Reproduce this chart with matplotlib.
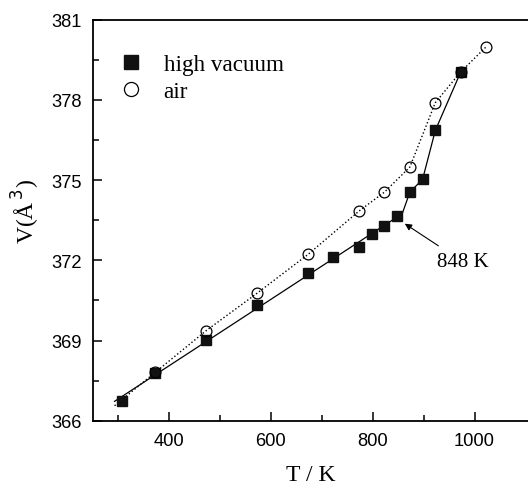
import numpy as np
import matplotlib.pyplot as plt

# high vacuum data
t_vac = [308, 373, 473, 573, 673, 723, 773, 798, 823, 848, 873, 898, 923, 973]
v_vac = [366.75, 367.77, 369.02, 370.33, 371.53, 372.14, 372.49, 372.97, 373.27, 373.66,
         374.55, 375.03, 376.86, 379.05]

# air data
t_air = [373, 473, 573, 673, 773, 823, 873, 923, 973, 1023]
v_air = [367.81, 369.37, 370.77, 372.22, 373.84, 374.55, 375.49, 377.90, 379.05, 379.99]

t_start = 293      # guide lines start a little below the first point
t_break = 848      # transition temperature

serif = 'Liberation Serif'
sans = 'Liberation Sans'

fig = plt.figure(figsize=(5.28, 4.85), dpi=100)
ax = fig.add_axes([0.1755, 0.1305, 0.8245, 0.8268])

# solid guide: linear fit below the transition, then through the high-T points
t_lo = np.array([t for t in t_vac if t <= t_break])
v_lo = np.array(v_vac[:len(t_lo)])
k, b = np.polyfit(t_lo, v_lo, 1)
t_end = t_break + 10
guide_t = [t_start, t_end] + t_vac[len(t_lo):]
guide_v = [k * t_start + b, k * t_end + b] + v_vac[len(t_lo):]
ax.plot(guide_t, guide_v, '-', color='k', lw=0.9)

# dotted guide through the air points
s0 = (v_air[1] - v_air[0]) / (t_air[1] - t_air[0])
air_t = [t_start] + t_air
air_v = [v_air[0] - s0 * (t_air[0] - t_start)] + v_air
ax.plot(air_t, air_v, ':', color='k', lw=1.0)

ax.plot(t_vac, v_vac, 's', color='#111111', ms=7.8, ls='none', label='high vacuum')
ax.plot(t_air, v_air, 'o', mfc='none', mec='k', mew=0.9, ms=7.8, ls='none', label='air')

ax.annotate('848 K', xy=(863, 373.37), xytext=(977, 371.94),
            ha='center', va='center', fontsize=15, family=serif,
            arrowprops=dict(arrowstyle='-|>', color='k', lw=0.8, mutation_scale=10,
                            shrinkA=5, shrinkB=0))

ax.set_xlim(250, 1105)
ax.set_ylim(366, 381)
ax.set_xticks([400, 600, 800, 1000])
ax.set_xticks([300, 500, 700, 900], minor=True)
ax.set_yticks([366, 369, 372, 375, 378, 381])
ax.set_yticks([367.5, 370.5, 373.5, 376.5, 379.5], minor=True)
ax.tick_params(which='both', direction='in', width=1.1, top=False, right=False)
ax.tick_params(which='major', length=6.5, labelsize=13.2, pad=8)
ax.tick_params(which='minor', length=4)
for lab in ax.get_xticklabels() + ax.get_yticklabels():
    lab.set_family(sans)
for side in ['left', 'bottom', 'top']:
    ax.spines[side].set_linewidth(1.3)
ax.spines['right'].set_visible(False)

ax.set_xlabel('T / K', fontsize=17, family=serif, labelpad=11)
ax.set_ylabel(r'V(Å$^{\,3}$)', fontsize=17, family=serif)
ax.yaxis.set_label_coords(-0.1165, 0.523)

leg = ax.legend(loc='upper left', bbox_to_anchor=(0.0167, 0.968), frameon=False,
                markerscale=1.3, handlelength=0.9, handletextpad=0.95,
                labelspacing=0.28, prop={'family': serif, 'size': 16.7})

fig.savefig('out.png', dpi=100)
